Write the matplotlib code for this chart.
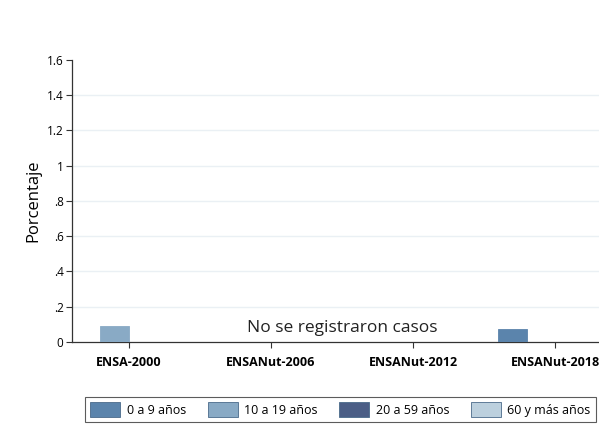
import numpy as np
import matplotlib
matplotlib.use('Agg')
import matplotlib.pyplot as plt
from matplotlib.patches import Patch

plt.rcParams['font.family'] = ['Open Sans', 'DejaVu Sans']

# data
surveys = ['ENSA-2000', 'ENSANut-2006', 'ENSANut-2012', 'ENSANut-2018']
groups = ['0 a 9 años', '10 a 19 años', '20 a 59 años', '60 y más años']
colors = ['#5B84AC', '#89AAC5', '#4B5E86', '#BCD0DE']
vals_0_9 = [0.0, 0.0, 0.0, 0.074]
vals_10_19 = [0.09, 0.0, 0.0, 0.0]
vals_20_59 = [0.0, 0.0, 0.0, 0.0]
vals_60 = [0.0, 0.0, 0.0, 0.0]
series = [vals_0_9, vals_10_19, vals_20_59, vals_60]
note = 'No se registraron casos'

fig = plt.figure(figsize=(5.99, 4.44), dpi=100)
ax = fig.add_axes([0.120, 0.2297, 0.902, 0.6353])

x = np.arange(len(surveys))
w = 0.2
for i, (s, c) in enumerate(zip(series, colors)):
    v = np.array(s)
    m = v > 0
    ax.bar(x[m] + (i - 1.5) * w, v[m], width=w,
           color=c, edgecolor=c, linewidth=0.6, zorder=3)

ax.text(1.5, 0.08, note, ha='center', va='center', fontsize=12.5, color='#222222')

ax.set_xlim(-0.4, 3.4)
ax.set_ylim(0, 1.6)
ax.set_yticks(np.arange(0, 1.61, 0.2))
ax.set_yticklabels(['0', '.2', '.4', '.6', '.8', '1', '1.2', '1.4', '1.6'])
ax.set_xticks(x)
ax.set_xticklabels(surveys, fontweight='bold', fontsize=9)
ax.tick_params(axis='y', labelsize=8.5, length=4, width=0.8, color='#333333', pad=2)
ax.tick_params(axis='x', length=4, width=0.8, color='#333333', pad=6)
for yv in np.arange(0.2, 1.5, 0.2):
    ax.axhline(yv, color='#EAF0F4', linewidth=1, zorder=1)
for sp in ['top', 'right']:
    ax.spines[sp].set_visible(False)
for sp in ['left', 'bottom']:
    ax.spines[sp].set_color('#333333')
    ax.spines[sp].set_linewidth(0.9)
ax.set_ylabel('Porcentaje', fontsize=12)
ax.yaxis.set_label_coords(-0.057, 0.5)

handles = [Patch(facecolor=c, edgecolor='#4a6a8a', linewidth=0.6) for c in colors]
leg = fig.legend(handles, groups, loc='center', bbox_to_anchor=(0.5684, 0.0777),
                 ncol=4, fontsize=9, frameon=True, fancybox=False,
                 edgecolor='#333333', handlelength=2.4, handleheight=1.4,
                 columnspacing=1.75, handletextpad=0.5, borderpad=0.4)
leg.get_frame().set_linewidth(0.8)

fig.savefig('out.png', dpi=100)
